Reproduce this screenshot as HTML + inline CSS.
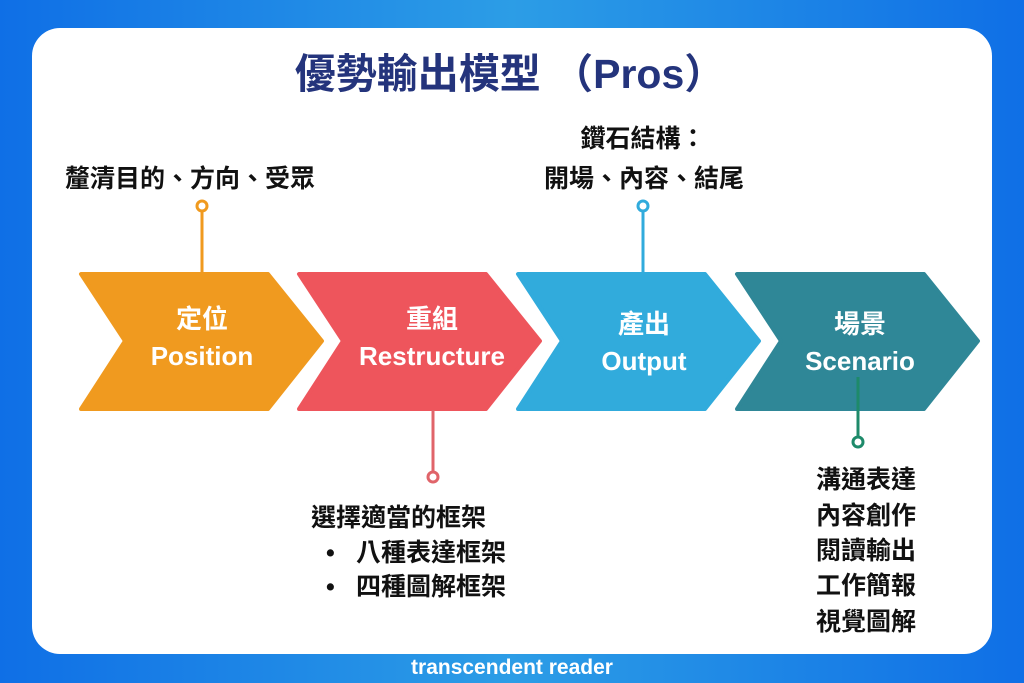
<!DOCTYPE html>
<html><head><meta charset="utf-8"><style>
html,body{margin:0;padding:0;}
body{width:1024px;height:683px;overflow:hidden;background:linear-gradient(90deg,#0f6fe6 0%,#2c9de6 50%,#0f6fe6 100%);}
svg{display:block}
text{font-family:"Liberation Sans","Noto Sans CJK TC",sans-serif;font-weight:bold;}
</style></head><body>
<svg width="1024" height="683" viewBox="0 0 1024 683" xmlns="http://www.w3.org/2000/svg">
<rect x="32" y="28" width="960" height="626" rx="28" fill="#fff"/>
<text x="510" y="88" text-anchor="middle" font-size="41" fill="#24347c">優勢輸出模型 （Pros）</text>

<g stroke-linejoin="round" stroke-width="4">
<polygon points="81,274 268,274 322,341 268,409 81,409 125,341" fill="#f09a1f" stroke="#f09a1f"/>
<polygon points="299,274 486,274 540,341 486,409 299,409 343,341" fill="#ee555c" stroke="#ee555c"/>
<polygon points="518,274 705,274 759,341 705,409 518,409 562,341" fill="#31abdc" stroke="#31abdc"/>
<polygon points="737,274 924,274 978,341 924,409 737,409 781,341" fill="#2f8797" stroke="#2f8797"/>
</g>

<g fill="#fff" font-size="26" text-anchor="middle">
<text x="202" y="328">定位</text><text x="202" y="365">Position</text>
<text x="432" y="328">重組</text><text x="432" y="365">Restructure</text>
<text x="644" y="333">產出</text><text x="644" y="370">Output</text>
<text x="860" y="333">場景</text><text x="860" y="370">Scenario</text>
</g>

<g stroke-width="3" fill="#fff">
<line x1="202" y1="211" x2="202" y2="273" stroke="#f09a1f"/><circle cx="202" cy="206" r="5" stroke="#f09a1f"/>
<line x1="643" y1="211" x2="643" y2="273" stroke="#31abdc"/><circle cx="643" cy="206" r="5" stroke="#31abdc"/>
<line x1="433" y1="410" x2="433" y2="472" stroke="#e0646a"/><circle cx="433" cy="477" r="5" stroke="#e0646a"/>
<line x1="858" y1="377" x2="858" y2="437" stroke="#1e8a6a"/><circle cx="858" cy="442" r="5" stroke="#1e8a6a"/>
</g>

<g fill="#111" font-size="25">
<text x="190" y="187" text-anchor="middle">釐清目的、方向、受眾</text>
<text x="643" y="147" text-anchor="middle">鑽石結構：</text>
<text x="644" y="187" text-anchor="middle">開場、內容、結尾</text>
<text x="311" y="526">選擇適當的框架</text>
<text x="326" y="561">•</text><text x="356" y="561">八種表達框架</text>
<text x="326" y="595">•</text><text x="356" y="595">四種圖解框架</text>
<text x="816" y="488">溝通表達</text>
<text x="816" y="524">內容創作</text>
<text x="816" y="559">閱讀輸出</text>
<text x="816" y="594">工作簡報</text>
<text x="816" y="630">視覺圖解</text>
</g>
<text x="512" y="674" text-anchor="middle" font-size="21" fill="#fff">transcendent reader</text>
</svg>
</body></html>
